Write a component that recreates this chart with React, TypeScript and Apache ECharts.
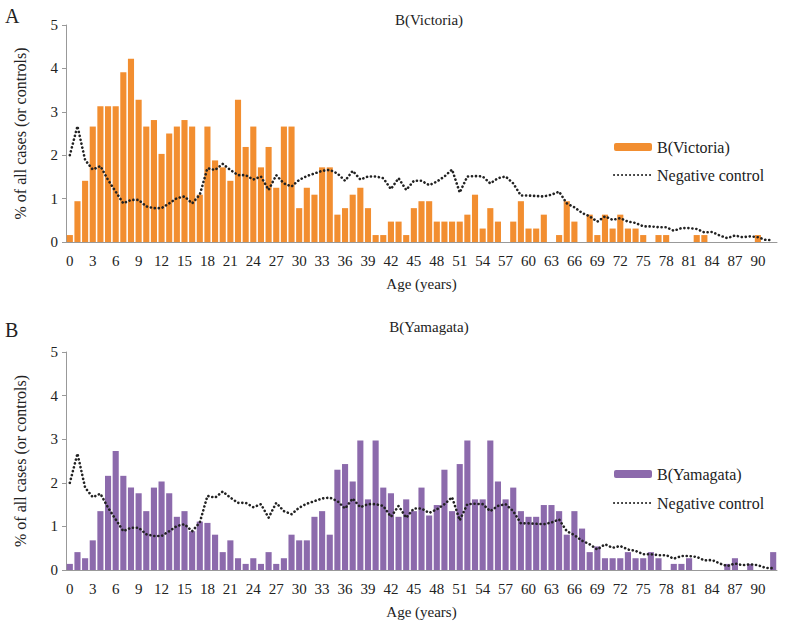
import React, { useEffect, useRef } from "react";
import * as echarts from "echarts";

const ages: string[] = Array.from({ length: 93 }, (_, i) => String(i));

const victoria: number[] = [
  0.16, 0.94, 1.41, 2.66, 3.13, 3.13, 3.13, 3.91, 4.22, 3.28,
  2.66, 2.81, 2.03, 2.5, 2.66, 2.81, 2.66, 1.09, 2.66, 1.88,
  1.72, 1.41, 3.28, 2.19, 2.66, 1.72, 2.19, 1.25, 2.66, 2.66,
  0.78, 1.25, 1.09, 1.72, 1.72, 0.63, 0.78, 1.09, 1.25, 0.78,
  0.16, 0.16, 0.47, 0.47, 0.16, 0.78, 0.94, 0.94, 0.47, 0.47,
  0.47, 0.47, 0.63, 1.09, 0.31, 0.78, 0.47, 0, 0.47, 0.94,
  0.31, 0.31, 0.63, 0, 0.16, 0.94, 0.47, 0, 0.63, 0.16,
  0.63, 0.31, 0.63, 0.31, 0.31, 0.16, 0, 0.16, 0.16, 0,
  0, 0, 0.16, 0.16, 0, 0, 0, 0, 0, 0,
  0.16, 0, 0,
];

const yamagata: number[] = [
  0.14, 0.41, 0.27, 0.68, 1.35, 2.16, 2.73, 2.16, 1.89, 1.76,
  1.35, 1.89, 2.03, 1.76, 1.22, 1.35, 0.89, 1.11, 1.08, 0.81,
  0.41, 0.68, 0.27, 0.14, 0.27, 0.14, 0.41, 0.14, 0.27, 0.81,
  0.68, 0.68, 1.22, 1.35, 0.81, 2.3, 2.43, 2.03, 2.97, 1.62,
  2.97, 1.89, 1.76, 1.22, 1.62, 1.35, 1.89, 1.25, 1.49, 2.3,
  1.35, 2.43, 2.97, 1.62, 1.62, 2.97, 2.03, 1.62, 1.89, 1.35,
  1.22, 1.22, 1.49, 1.49, 1.35, 0.81, 1.35, 0.95, 0.41, 0.54,
  0.27, 0.27, 0.27, 0.41, 0.27, 0.27, 0.41, 0.27, 0, 0.14,
  0.14, 0.27, 0, 0, 0, 0, 0.14, 0.27, 0, 0.14,
  0, 0, 0.41,
];

const negativeControl: number[] = [
  2.0, 2.67, 1.89, 1.67, 1.75, 1.43, 1.16, 0.89, 0.97, 0.97,
  0.82, 0.78, 0.78, 0.89, 1.01, 1.05, 0.89, 1.09, 1.7, 1.66,
  1.8, 1.66, 1.54, 1.54, 1.44, 1.51, 1.2, 1.54, 1.35, 1.28,
  1.43, 1.52, 1.58, 1.64, 1.66, 1.58, 1.41, 1.64, 1.44, 1.51,
  1.51, 1.47, 1.22, 1.47, 1.2, 1.41, 1.41, 1.31, 1.39, 1.51,
  1.67, 1.14, 1.51, 1.52, 1.51, 1.35, 1.47, 1.51, 1.35, 1.07,
  1.07, 1.06, 1.05, 1.09, 1.16, 0.89, 0.8, 0.67, 0.59, 0.47,
  0.59, 0.51, 0.55, 0.47, 0.44, 0.36, 0.36, 0.34, 0.34, 0.26,
  0.32, 0.32, 0.3, 0.22, 0.23, 0.15, 0.09, 0.15, 0.11, 0.13,
  0.11, 0.05, 0.04,
];

const FONT = "'Liberation Serif', 'DejaVu Serif', serif";
const TEXT = "#222";
const AXIS = "#999";

export default function App() {
  const ref = useRef<HTMLDivElement>(null);
  useEffect(() => {
    if (!ref.current) return;
    const chart = echarts.init(ref.current, undefined, { renderer: "svg" });

    const xAxis = (gridIndex: number) => ({
      type: "category",
      gridIndex,
      data: ages,
      name: "Age (years)",
      nameLocation: "middle",
      nameGap: 34,
      nameTextStyle: { fontFamily: FONT, fontSize: 15, color: TEXT },
      axisLine: { lineStyle: { color: AXIS, width: 1 } },
      axisTick: { interval: 0, length: 5, lineStyle: { color: AXIS } },
      axisLabel: { interval: 2, fontFamily: FONT, fontSize: 15, color: TEXT, margin: 11 },
    });
    const yAxis = (gridIndex: number) => ({
      type: "value",
      gridIndex,
      min: 0,
      max: 5,
      interval: 1,
      name: "% of all cases (or controls)",
      nameLocation: "middle",
      nameGap: 38,
      nameTextStyle: { fontFamily: FONT, fontSize: 16, color: TEXT },
      splitLine: { show: false },
      axisLine: { show: true, lineStyle: { color: AXIS, width: 1 } },
      axisTick: { show: true, length: 4, lineStyle: { color: AXIS } },
      axisLabel: { fontFamily: FONT, fontSize: 15, color: TEXT, margin: 8 },
    });
    const dotted = {
      color: "#222",
      width: 2.6,
      type: [0.1, 3.9],
      cap: "round",
    };

    const legendCommon = {
      orient: "vertical",
      left: 608,
      itemWidth: 38,
      itemHeight: 8,
      textStyle: { fontFamily: FONT, fontSize: 16, color: TEXT },
    };

    chart.setOption({
      animation: false,
      backgroundColor: "#fff",
      title: [
        { text: "B(Victoria)", left: 424, top: 7, textAlign: "center", textStyle: { fontFamily: FONT, fontSize: 15, fontWeight: "normal", color: TEXT } },
        { text: "B(Yamagata)", left: 424, top: 314, textAlign: "center", textStyle: { fontFamily: FONT, fontSize: 15, fontWeight: "normal", color: TEXT } },
        { text: "A", left: 0, top: 1, textStyle: { fontFamily: FONT, fontSize: 20, fontWeight: "normal", color: TEXT } },
        { text: "B", left: 0, top: 315, textStyle: { fontFamily: FONT, fontSize: 20, fontWeight: "normal", color: TEXT } },
      ],
      legend: [
        {
          ...legendCommon,
          top: 134,
          itemGap: 12,
          data: ["B(Victoria)", { name: "Negative control", itemStyle: { opacity: 0 } }],
        },
        {
          ...legendCommon,
          top: 461,
          itemGap: 13,
          data: ["B(Yamagata)", { name: "Negative control", itemStyle: { opacity: 0 } }],
        },
      ],
      grid: [
        { left: 66, right: 9, top: 25, height: 217 },
        { left: 66, right: 9, top: 352, height: 218 },
      ],
      xAxis: [xAxis(0), xAxis(1)],
      yAxis: [yAxis(0), yAxis(1)],
      series: [
        {
          name: "B(Victoria)",
          type: "bar",
          xAxisIndex: 0,
          yAxisIndex: 0,
          data: victoria,
          barCategoryGap: "20%",
          itemStyle: { color: "#F28E30" },
        },
        {
          name: "Negative control",
          type: "line",
          xAxisIndex: 0,
          yAxisIndex: 0,
          data: negativeControl,
          symbol: "none",
          lineStyle: dotted,
          itemStyle: { color: "#222" },
        },
        {
          name: "B(Yamagata)",
          type: "bar",
          xAxisIndex: 1,
          yAxisIndex: 1,
          data: yamagata,
          barCategoryGap: "20%",
          itemStyle: { color: "#8C6AAC" },
        },
        {
          name: "Negative control",
          type: "line",
          xAxisIndex: 1,
          yAxisIndex: 1,
          data: negativeControl,
          symbol: "none",
          lineStyle: dotted,
          itemStyle: { color: "#222" },
        },
      ],
    });
    return () => chart.dispose();
  }, []);
  return (
    <div
      ref={ref}
      style={{ position: "fixed", left: 0, top: 0, width: 786, height: 625 }}
    />
  );
}
